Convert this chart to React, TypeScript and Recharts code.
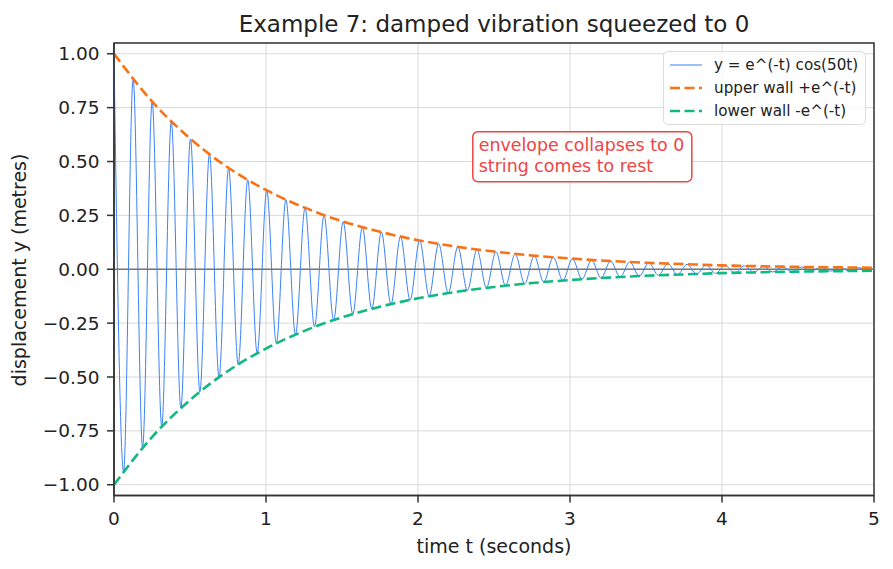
import React from 'react';
import {
  LineChart,
  Line,
  XAxis,
  YAxis,
  CartesianGrid,
  ReferenceLine,
  ReferenceArea,
  ReferenceDot,
  Legend,
} from 'recharts';

// turning points of the vibration (peak / trough times and heights)
const peakTimes = [
  0, 0.063, 0.126, 0.188, 0.251, 0.314, 0.377, 0.44, 0.503, 0.565,
  0.628, 0.691, 0.754, 0.817, 0.88, 0.942, 1.005, 1.068, 1.131, 1.194,
  1.257, 1.319, 1.382, 1.445, 1.508, 1.571, 1.634, 1.696, 1.759, 1.822,
  1.885, 1.948, 2.011, 2.073, 2.136, 2.199, 2.262, 2.325, 2.388, 2.45,
  2.513, 2.576, 2.639, 2.702, 2.765, 2.827, 2.89, 2.953, 3.016, 3.079,
  3.142, 3.204, 3.267, 3.33, 3.393, 3.456, 3.519, 3.581, 3.644, 3.707,
  3.77, 3.833, 3.896, 3.958, 4.021, 4.084, 4.147, 4.21, 4.273, 4.335,
  4.398, 4.461, 4.524, 4.587, 4.65, 4.712, 4.775, 4.838, 4.901, 4.964, 5.0,
];
const peakValues = [
  1.0, -0.939, 0.882, -0.828, 0.778, -0.73, 0.686, -0.644, 0.605, -0.568,
  0.534, -0.501, 0.47, -0.442, 0.415, -0.39, 0.366, -0.344, 0.323, -0.303,
  0.285, -0.267, 0.251, -0.236, 0.221, -0.208, 0.195, -0.183, 0.172, -0.162,
  0.152, -0.143, 0.134, -0.126, 0.118, -0.111, 0.104, -0.098, 0.092, -0.086,
  0.081, -0.076, 0.071, -0.067, 0.063, -0.059, 0.056, -0.052, 0.049, -0.046,
  0.043, -0.041, 0.038, -0.036, 0.034, -0.032, 0.03, -0.028, 0.026, -0.025,
  0.023, -0.022, 0.02, -0.019, 0.018, -0.017, 0.016, -0.015, 0.014, -0.013,
  0.012, -0.012, 0.011, -0.01, 0.01, -0.009, 0.008, -0.008, 0.007, -0.007, 0.002,
];

// envelope walls
const wallTimes = [
  0, 0.25, 0.5, 0.75, 1, 1.25, 1.5, 1.75, 2, 2.25, 2.5,
  2.75, 3, 3.25, 3.5, 3.75, 4, 4.25, 4.5, 4.75, 5,
];
const upperWall = [
  1.0, 0.779, 0.607, 0.472, 0.368, 0.287, 0.223, 0.174, 0.135, 0.105, 0.082,
  0.064, 0.05, 0.039, 0.03, 0.024, 0.018, 0.014, 0.011, 0.009, 0.007,
];
const lowerWall = [
  -1.0, -0.779, -0.607, -0.472, -0.368, -0.287, -0.223, -0.174, -0.135, -0.105, -0.082,
  -0.064, -0.05, -0.039, -0.03, -0.024, -0.018, -0.014, -0.011, -0.009, -0.007,
];

const xTicks = [0, 1, 2, 3, 4, 5];
const yTicks = [-1, -0.75, -0.5, -0.25, 0, 0.25, 0.5, 0.75, 1];

const vibration = peakTimes.map((t, i) => ({ t, y: peakValues[i] }));
const upper = wallTimes.map((t, i) => ({ t, y: upperWall[i] }));
const lower = wallTimes.map((t, i) => ({ t, y: lowerWall[i] }));

const FONT = '"DejaVu Sans", sans-serif';
const INK = '#222222';
const BLUE = '#3b82f6';
const ORANGE = '#f97316';
const GREEN = '#10b981';
const RED = '#ef4444';

const legendItems = [
  { label: 'y = e^(-t) cos(50t)', color: BLUE, width: 1, dash: undefined },
  { label: 'upper wall +e^(-t)', color: ORANGE, width: 2.6, dash: '10 4.5' },
  { label: 'lower wall -e^(-t)', color: GREEN, width: 2.6, dash: '10 4.5' },
];

const renderLegend = () => (
  <div
    style={{
      display: 'inline-block',
      background: 'rgba(255,255,255,0.8)',
      border: '1.5px solid #dcdcdc',
      borderRadius: 5,
      padding: '1px 7px 1px 6px',
      fontFamily: FONT,
      fontSize: 15.2,
      color: INK,
    }}
  >
    {legendItems.map((item) => (
      <div key={item.label} style={{ display: 'flex', alignItems: 'center', height: 23.3, whiteSpace: 'nowrap' }}>
        <svg width={32} height={10} style={{ marginRight: 12 }}>
          <line x1={0} y1={5} x2={32} y2={5} stroke={item.color} strokeWidth={item.width} strokeDasharray={item.dash} />
        </svg>
        <span>{item.label}</span>
      </div>
    ))}
  </div>
);

const annotation = (props: any) => {
  const { cx, cy } = props;
  return (
    <g>
      <rect x={cx - 6} y={cy - 40.5} width={219} height={50} rx={5} fill="#ffffff" stroke={RED} strokeWidth={1.5} />
      <text x={cx} y={cy - 21} fontSize={17.4} fill={RED} fontFamily={FONT}>envelope collapses to 0</text>
      <text x={cx} y={cy} fontSize={17.4} fill={RED} fontFamily={FONT}>string comes to rest</text>
    </g>
  );
};

const fmtY = (v: number) => v.toFixed(2).replace('-', '\u2212');

export default function App() {
  return (
    <div style={{ width: 893, height: 569, background: '#fff', position: 'relative' }}>
      <style>{'body{margin:0}'}</style>
      <LineChart width={893} height={569} margin={{ top: 43, right: 19, bottom: 0, left: 0 }}>
        <CartesianGrid stroke="#d9d9d9" strokeWidth={1} />
        <XAxis
          dataKey="t"
          type="number"
          domain={[0, 5]}
          ticks={xTicks}
          interval={0}
          allowDataOverflow
          height={73.5}
          tickSize={7}
          tickMargin={9.4}
          axisLine={{ stroke: '#333', strokeWidth: 1.5 }}
          tickLine={{ stroke: '#333', strokeWidth: 1.5 }}
          tick={{ fill: INK, fontSize: 18.5, fontFamily: FONT }}
        />
        <YAxis
          type="number"
          domain={[-1.05, 1.05]}
          ticks={yTicks}
          interval={0}
          allowDataOverflow
          width={114}
          tickSize={7}
          tickMargin={7.5}
          tickFormatter={fmtY}
          axisLine={{ stroke: '#333', strokeWidth: 1.5 }}
          tickLine={{ stroke: '#333', strokeWidth: 1.5 }}
          tick={{ fill: INK, fontSize: 18.5, fontFamily: FONT }}
        />
        <ReferenceLine y={0} stroke="#777777" strokeWidth={1.6} />
        <Line
          data={vibration}
          dataKey="y"
          name="y = e^(-t) cos(50t)"
          type="monotone"
          stroke={BLUE}
          strokeWidth={1}
          dot={false}
          isAnimationActive={false}
        />
        <Line
          data={upper}
          dataKey="y"
          name="upper wall +e^(-t)"
          type="monotone"
          stroke={ORANGE}
          strokeWidth={2.6}
          strokeDasharray="10 4.5"
          dot={false}
          isAnimationActive={false}
        />
        <Line
          data={lower}
          dataKey="y"
          name="lower wall -e^(-t)"
          type="monotone"
          stroke={GREEN}
          strokeWidth={2.6}
          strokeDasharray="10 4.5"
          dot={false}
          isAnimationActive={false}
        />
        <ReferenceArea x1={0} x2={5} y1={-1.05} y2={1.05} fill="none" stroke="#333" strokeWidth={1.5} />
        <ReferenceDot x={2.4} y={0.45} r={0} shape={annotation} />
        <Legend
          layout="vertical"
          align="center"
          verticalAlign="middle"
          content={renderLegend}
          wrapperStyle={{ top: 51, left: 663, width: 'auto' }}
        />
        <text x={494} y={31.5} textAnchor="middle" fontSize={23} fill={INK} fontFamily={FONT}>
          Example 7: damped vibration squeezed to 0
        </text>
        <text x={494} y={552.7} textAnchor="middle" fontSize={19} fill={INK} fontFamily={FONT}>
          time t (seconds)
        </text>
        <text
          x={26}
          y={270}
          textAnchor="middle"
          fontSize={19}
          fill={INK}
          fontFamily={FONT}
          transform="rotate(-90, 26, 270)"
        >
          displacement y (metres)
        </text>
      </LineChart>
    </div>
  );
}
